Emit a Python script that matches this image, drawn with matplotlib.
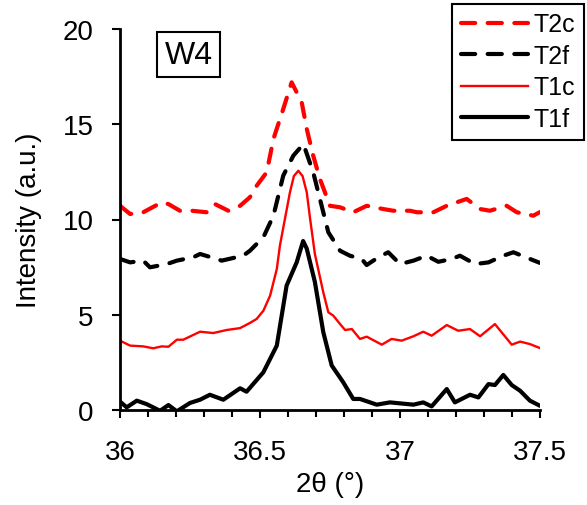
import matplotlib
matplotlib.use('Agg')
import matplotlib.pyplot as plt
from matplotlib.ticker import MultipleLocator

plt.rcParams['font.family'] = ['Liberation Sans', 'DejaVu Sans']

# T2c (red dashed)
t2c_x = [36.000, 36.036, 36.083, 36.149, 36.173, 36.214, 36.256, 36.310, 36.339, 36.387,
         36.429, 36.464, 36.488, 36.524, 36.548, 36.583, 36.613, 36.649, 36.667, 36.690,
         36.714, 36.750, 36.786, 36.833, 36.881, 36.940, 36.976, 37.036, 37.060, 37.119,
         37.167, 37.238, 37.286, 37.321, 37.381, 37.417, 37.476, 37.500]
t2c_y = [10.72, 10.29, 10.38, 10.90, 10.81, 10.46, 10.46, 10.38, 10.81, 10.46,
         10.72, 11.17, 11.77, 12.48, 14.23, 15.80, 17.20, 16.15, 14.75, 13.35,
         12.13, 10.72, 10.64, 10.38, 10.72, 10.55, 10.46, 10.46, 10.38, 10.38,
         10.72, 11.08, 10.55, 10.46, 10.72, 10.38, 10.20, 10.39]

# T2f (black dashed)
t2f_x = [36.000, 36.036, 36.083, 36.107, 36.167, 36.203, 36.262, 36.286, 36.345, 36.363,
         36.440, 36.464, 36.512, 36.548, 36.583, 36.619, 36.655, 36.690, 36.714, 36.744,
         36.786, 36.821, 36.863, 36.881, 36.923, 36.958, 37.000, 37.048, 37.095, 37.137,
         37.185, 37.214, 37.268, 37.316, 37.369, 37.405, 37.464, 37.500]
t2f_y = [7.93, 7.75, 7.84, 7.49, 7.66, 7.84, 8.02, 8.19, 7.93, 7.84,
         8.10, 8.36, 9.07, 10.20, 12.30, 13.35, 13.96, 12.48, 11.08, 9.33,
         8.36, 8.10, 7.93, 7.61, 8.02, 8.28, 7.66, 7.84, 8.10, 7.78,
         7.93, 8.10, 7.66, 7.75, 8.10, 8.28, 7.93, 7.72]

# T1c (red thin solid)
t1c_x = [36.000, 36.036, 36.083, 36.119, 36.149, 36.173, 36.203, 36.226, 36.286, 36.333,
         36.381, 36.429, 36.464, 36.488, 36.512, 36.536, 36.560, 36.571, 36.589, 36.607,
         36.621, 36.637, 36.652, 36.667, 36.679, 36.696, 36.726, 36.744, 36.762, 36.786,
         36.804, 36.828, 36.857, 36.881, 36.935, 36.970, 37.006, 37.048, 37.083, 37.113,
         37.167, 37.208, 37.250, 37.286, 37.339, 37.399, 37.429, 37.464, 37.500]
t1c_y = [3.64, 3.38, 3.34, 3.24, 3.34, 3.32, 3.69, 3.69, 4.11, 4.04,
         4.20, 4.30, 4.57, 4.78, 5.21, 6.00, 7.40, 8.62, 10.03, 11.43,
         12.28, 12.56, 12.28, 11.43, 10.03, 8.19, 6.18, 5.13, 4.95, 4.51,
         4.20, 4.25, 3.73, 3.85, 3.43, 3.73, 3.64, 3.87, 4.11, 3.90,
         4.46, 4.16, 4.25, 3.87, 4.51, 3.43, 3.59, 3.46, 3.25]

# T1f (black thick solid)
t1f_x = [36.000, 36.024, 36.060, 36.095, 36.143, 36.173, 36.203, 36.250, 36.286, 36.321,
         36.369, 36.429, 36.452, 36.512, 36.560, 36.578, 36.595, 36.631, 36.654, 36.667,
         36.696, 36.726, 36.756, 36.797, 36.833, 36.857, 36.917, 36.964, 37.048, 37.083,
         37.113, 37.167, 37.196, 37.250, 37.280, 37.316, 37.339, 37.369, 37.399, 37.429,
         37.464, 37.500]
t1f_y = [0.44, 0.14, 0.49, 0.31, -0.04, 0.26, -0.07, 0.37, 0.54, 0.80,
         0.54, 1.14, 0.96, 1.98, 3.38, 5.00, 6.53, 7.75, 8.87, 8.47,
         6.72, 4.09, 2.34, 1.46, 0.58, 0.58, 0.28, 0.40, 0.28, 0.40,
         0.19, 1.10, 0.40, 0.80, 0.66, 1.36, 1.31, 1.84, 1.31, 1.01,
         0.49, 0.22]

fig = plt.figure(figsize=(5.87, 5.06), dpi=100)
ax = fig.add_axes([120 / 587, 95 / 506, 420 / 587, 381 / 506])

dash_kw = dict(lw=3, dashes=(3.4, 3.0), dash_capstyle='round', dash_joinstyle='round')
ax.plot(t2c_x, t2c_y, color='#ff0000', label='T2c', **dash_kw)
ax.plot(t2f_x, t2f_y, color='black', label='T2f', **dash_kw)
ax.plot(t1c_x, t1c_y, color='#ff0000', lw=1.7, solid_joinstyle='round', label='T1c')
ax.plot(t1f_x, t1f_y, color='black', lw=3, solid_joinstyle='round',
        solid_capstyle='round', label='T1f')

ax.set_xlim(36, 37.5)
ax.set_ylim(0, 20)
ax.set_xticks([36, 36.5, 37, 37.5])
ax.set_xticklabels(['36', '36.5', '37', '37.5'])
ax.set_yticks([0, 5, 10, 15, 20])
ax.xaxis.set_minor_locator(MultipleLocator(0.1))

for s in ['top', 'right']:
    ax.spines[s].set_visible(False)
for s in ['left', 'bottom']:
    ax.spines[s].set_linewidth(2)

ax.tick_params(axis='both', which='major', direction='out', length=6, width=1.5,
               labelsize=20)
ax.tick_params(axis='x', which='major', pad=15)
ax.tick_params(axis='y', which='major', pad=13)
ax.tick_params(axis='x', which='minor', direction='out', length=5, width=1.5)

ax.set_xlabel('2θ (°)', fontsize=20)
ax.set_ylabel('Intensity (a.u.)', fontsize=20)
ax.xaxis.set_label_coords(0.5, -0.16)
ax.yaxis.set_label_coords(-0.185, 0.5)

fig.text(188.5 / 587, 1 - 55.5 / 506, 'W4', fontsize=23, ha='center', va='center',
         bbox=dict(boxstyle='square,pad=0.22', fc='white', ec='black', lw=1.5))

leg = fig.legend(loc='upper right', bbox_to_anchor=(583.5 / 587, 1 - 4.5 / 506),
                 fontsize=18, handlelength=2.7, handletextpad=0.2, labelspacing=0.3,
                 borderpad=0.35, borderaxespad=0, fancybox=False, framealpha=1,
                 edgecolor='black')
leg.get_frame().set_linewidth(1.5)

fig.savefig('out.png', dpi=100)
